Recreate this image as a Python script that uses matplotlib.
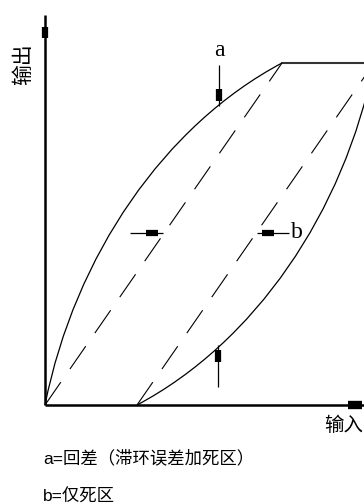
"""Hysteresis + dead-zone schematic: output vs input (回差 / 死区)."""

import matplotlib

matplotlib.use("Agg")
import matplotlib.pyplot as plt
from matplotlib.patches import PathPatch
from matplotlib.path import Path

plt.rcParams["font.family"] = ["Liberation Sans", "Noto Sans CJK SC", "DejaVu Sans"]
plt.rcParams["lines.scale_dashes"] = False

# geometry of the schematic (1 unit = 100 px of the reference)
PEAK = (2.37, 3.42)          # where the rising branch reaches saturation
DEAD_ZONE = 0.92             # b = width of the dead zone on the input axis

# cubic Bezier control points of the two branches
upper_ctrl_x = [0.0, 0.30, 1.20, 2.37]
upper_ctrl_y = [0.0, 1.50, 2.80, 3.42]
lower_ctrl_x = [0.92, 2.09, 2.99, 3.29]
lower_ctrl_y = [0.0, 0.62, 1.92, 3.42]

# annotation arrows: (x_start, y_start, x_tip, y_tip)
arrow_a = (1.74, 3.40, 1.74, 2.99)
arrow_a_low = (1.73, 0.18, 1.73, 0.60)
arrow_b_left = (0.85, 1.72, 1.18, 1.72)
arrow_b_right = (2.44, 1.72, 2.12, 1.72)

y_label = "输出"
x_label = "输入"
notes = ["a=回差（滞环误差加死区）", "b=仅死区"]

X_LIM = (-0.45, 3.19)
Y_LIM = (-0.99, 4.05)
SERIF = ["Liberation Serif", "DejaVu Serif"]


def bezier_patch(xs, ys):
    verts = list(zip(xs, ys))
    codes = [Path.MOVETO, Path.CURVE4, Path.CURVE4, Path.CURVE4]
    return PathPatch(Path(verts, codes), facecolor="none", edgecolor="black", lw=0.9)


def block_arrow(axis, seg, lw=0.9, head_lw=4.5, head_from=0.05, head_to=0.17):
    """Line with a small solid block near the tip, like the old line-art arrows."""
    x0, y0, x1, y1 = seg
    axis.plot([x0, x1], [y0, y1], color="black", lw=lw, solid_capstyle="butt")
    dx, dy = x0 - x1, y0 - y1
    length = (dx ** 2 + dy ** 2) ** 0.5
    ux, uy = dx / length, dy / length
    axis.plot(
        [x1 + ux * head_from, x1 + ux * head_to],
        [y1 + uy * head_from, y1 + uy * head_to],
        color="black", lw=head_lw, solid_capstyle="butt",
    )


fig = plt.figure(figsize=(3.64, 5.04), dpi=100)
ax = fig.add_axes([0, 0, 1, 1])
ax.set_xlim(*X_LIM)
ax.set_ylim(*Y_LIM)
ax.axis("off")

# axes of the schematic
block_arrow(ax, (0, 0, 0, 3.90), lw=1.8, head_lw=4.5, head_from=0.12, head_to=0.23)
block_arrow(ax, (0, 0, 3.19, 0), lw=1.8, head_lw=6.0, head_from=0.02, head_to=0.16)

# saturation line
ax.plot([PEAK[0], X_LIM[1]], [PEAK[1], PEAK[1]], color="#333333", lw=1.5)

# ideal (dead-zone only) straight characteristics
dash = (0, (20, 11.5))
ax.plot([0, PEAK[0]], [0, PEAK[1]], color="black", lw=0.8, linestyle=dash)
ax.plot([DEAD_ZONE, PEAK[0] + DEAD_ZONE], [0, PEAK[1]], color="black", lw=0.8, linestyle=dash)

# hysteresis branches
ax.add_patch(bezier_patch(upper_ctrl_x, upper_ctrl_y))
ax.add_patch(bezier_patch(lower_ctrl_x, lower_ctrl_y))

for seg in (arrow_a, arrow_a_low, arrow_b_left, arrow_b_right):
    block_arrow(ax, seg)

ax.text(arrow_a[0], 3.55, "a", fontsize=17, family=SERIF, ha="center", va="center")
ax.text(2.46, 1.73, "b", fontsize=17, family=SERIF, ha="left", va="center")

ax.text(-0.22, 3.41, y_label, fontsize=15, rotation=90, ha="center", va="center")
ax.text(2.79, -0.21, x_label, fontsize=14, ha="left", va="center")

ax.text(-0.02, -0.53, notes[0], fontsize=12.5, ha="left", va="center")
ax.text(-0.02, -0.92, notes[1], fontsize=12.5, ha="left", va="center")

fig.savefig("out.png", dpi=100)
plt.close(fig)
